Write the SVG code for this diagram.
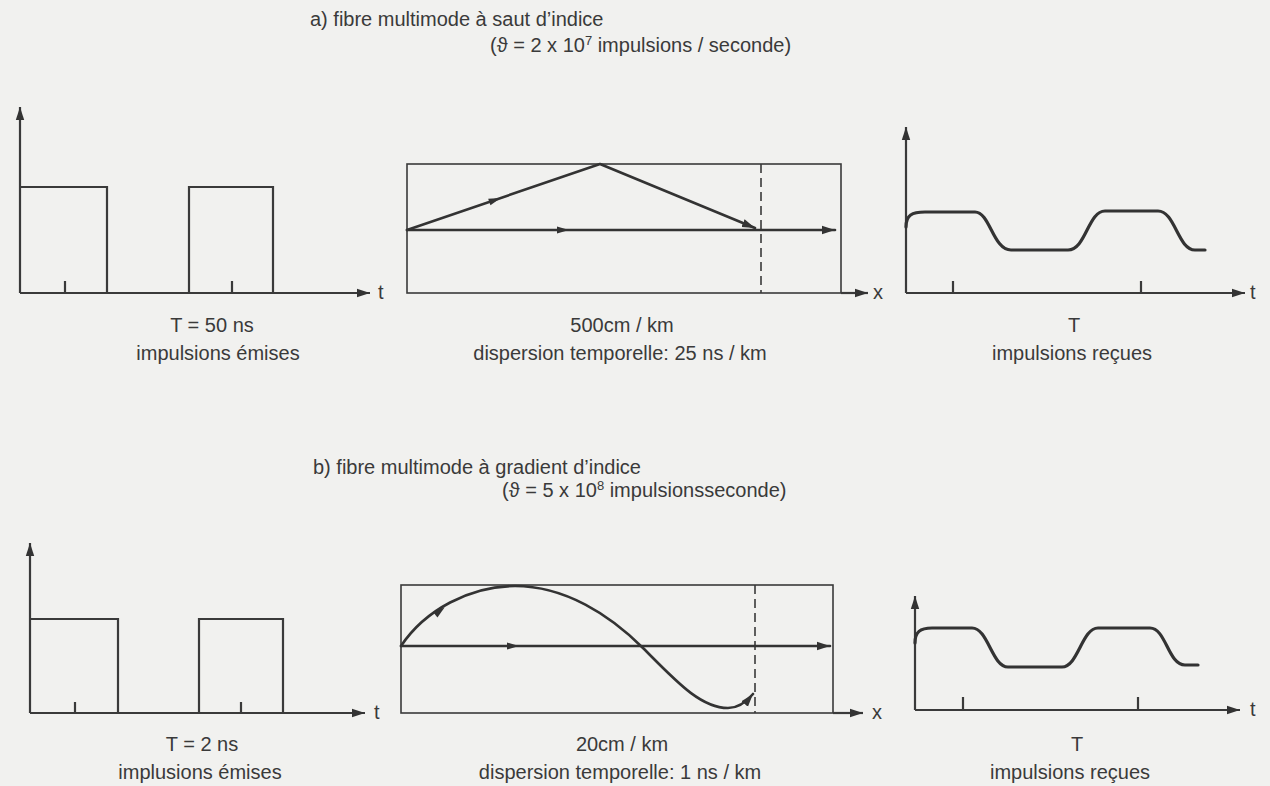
<svg xmlns="http://www.w3.org/2000/svg" width="1270" height="786" viewBox="0 0 1270 786">
<defs>
<style>
.ln{fill:none;stroke:#3a3a3a;stroke-width:2.2;stroke-linecap:butt;stroke-linejoin:miter}
.ray{fill:none;stroke:#333;stroke-width:2.6;stroke-linecap:round;stroke-linejoin:round}
.thin{fill:none;stroke:#3a3a3a;stroke-width:1.6}
.cv{fill:none;stroke:#333;stroke-width:3.2;stroke-linecap:round;stroke-linejoin:round}
.dash{fill:none;stroke:#3a3a3a;stroke-width:1.6;stroke-dasharray:9,5}
.ah{fill:#333}
text{font-family:"Liberation Sans","DejaVu Sans",Arial,sans-serif;fill:#3a3a3a;font-size:20px}
.c{text-anchor:middle}
</style>
<marker id="arr" markerUnits="userSpaceOnUse" markerWidth="14" markerHeight="10" refX="13" refY="5" orient="auto">
<path d="M0,0.8 L13,5 L0,9.2 Z" fill="#333"/>
</marker>
<path id="mid" d="M-6,-3.5 L6,0 L-6,3.5 Z"/>
</defs>
<rect width="1270" height="786" fill="#f1f1ef"/>

<g id="title-a">
<text x="310" y="26">a) fibre multimode à saut d’indice</text>
<text x="490" y="52">(ϑ = 2 x 10<tspan font-size="13" dy="-7">7</tspan><tspan dy="7"> impulsions / seconde)</tspan></text>
</g>

<g id="emitted-a">
<path class="ln" d="M20,293 V107" marker-end="url(#arr)"/>
<path class="ln" d="M20,293 H370" marker-end="url(#arr)"/>
<path class="ln" d="M20,187 H107 V293 M189,293 V187 H273 V293 M65,293 V281 M232,293 V281"/>
<text x="378" y="299">t</text>
<text class="c" x="212" y="332">T = 50 ns</text>
<text class="c" x="218" y="360">impulsions émises</text>
</g>

<g id="fiber-a">
<rect class="thin" x="407" y="164" width="434" height="129"/>
<path class="dash" d="M761,164 V293"/>
<text x="873" y="299">x</text>
<text class="c" x="622" y="332">500cm / km</text>
<text class="c" x="620" y="360">dispersion temporelle: 25 ns / km</text>
</g>

<g id="received-a">
<path class="ln" d="M906,293 V127" marker-end="url(#arr)"/>
<path class="ln" d="M906,293 H1245" marker-end="url(#arr)"/>
<path class="ln" d="M953,293 V281 M1141,293 V281"/>
<path class="cv" d="M906,227 C906,215 912,212 925,212 L975,212 C990,212 993,250 1011,250 L1068,250 C1086,250 1088,211 1105,211 L1158,211 C1175,211 1178,250 1195,250 L1205,250"/>
<text x="1250" y="299">t</text>
<text class="c" x="1074" y="332">T</text>
<text class="c" x="1072" y="360">impulsions reçues</text>
</g>

<g id="title-b">
<text x="313" y="474">b) fibre multimode à gradient d’indice</text>
<text x="502" y="497">(ϑ = 5 x 10<tspan font-size="13" dy="-7">8</tspan><tspan dy="7"> impulsionsseconde)</tspan></text>
</g>

<g id="emitted-b">
<path class="ln" d="M30,713 V543" marker-end="url(#arr)"/>
<path class="ln" d="M30,713 H365" marker-end="url(#arr)"/>
<path class="ln" d="M30,619 H118 V713 M199,713 V619 H283 V713 M75,713 V702 M241,713 V702"/>
<text x="374" y="719">t</text>
<text class="c" x="202" y="751">T = 2 ns</text>
<text class="c" x="200" y="779">implusions émises</text>
</g>

<g id="fiber-b">
<rect class="thin" x="401" y="585" width="432" height="128"/>
<path class="dash" d="M755,585 V713"/>
<text x="872" y="719">x</text>
<text class="c" x="622" y="751">20cm / km</text>
<text class="c" x="620" y="779">dispersion temporelle: 1 ns / km</text>
</g>

<g id="received-b">
<path class="ln" d="M915,710 V596" marker-end="url(#arr)"/>
<path class="ln" d="M915,710 H1240" marker-end="url(#arr)"/>
<path class="ln" d="M963,710 V697 M1138,710 V697"/>
<path class="cv" d="M915,643 C915,632 920,628 932,628 L972,628 C988,628 992,667 1008,667 L1062,667 C1078,667 1082,628 1098,628 L1150,628 C1166,628 1168,665 1185,665 L1198,665"/>
<text x="1250" y="716">t</text>
<text class="c" x="1077" y="751">T</text>
<text class="c" x="1070" y="779">impulsions reçues</text>
</g>

<g id="connectors">
<path class="ln" d="M841,293 H868" marker-end="url(#arr)"/>
<path class="ray" d="M407,230 H835" marker-end="url(#arr)"/>
<path class="ray" d="M407,230 L600,164 L755,228" marker-end="url(#arr)"/>
<use href="#mid" class="ah" transform="translate(563,230)"/>
<use href="#mid" class="ah" transform="translate(495,200) rotate(-19)"/>
<path class="ln" d="M833,713 H863" marker-end="url(#arr)"/>
<path class="ray" d="M401,646 H830" marker-end="url(#arr)"/>
<path class="ray" stroke-width="2.8" d="M401,646 C425,610 470,586 515,586 C565,586 610,615 643,648 C675,680 700,708 728,708 C740,708 748,700 753,694" marker-end="url(#arr)"/>
<use href="#mid" class="ah" transform="translate(513,646)"/>
<use href="#mid" class="ah" transform="translate(440,611) rotate(-38)"/>
</g>
</svg>
